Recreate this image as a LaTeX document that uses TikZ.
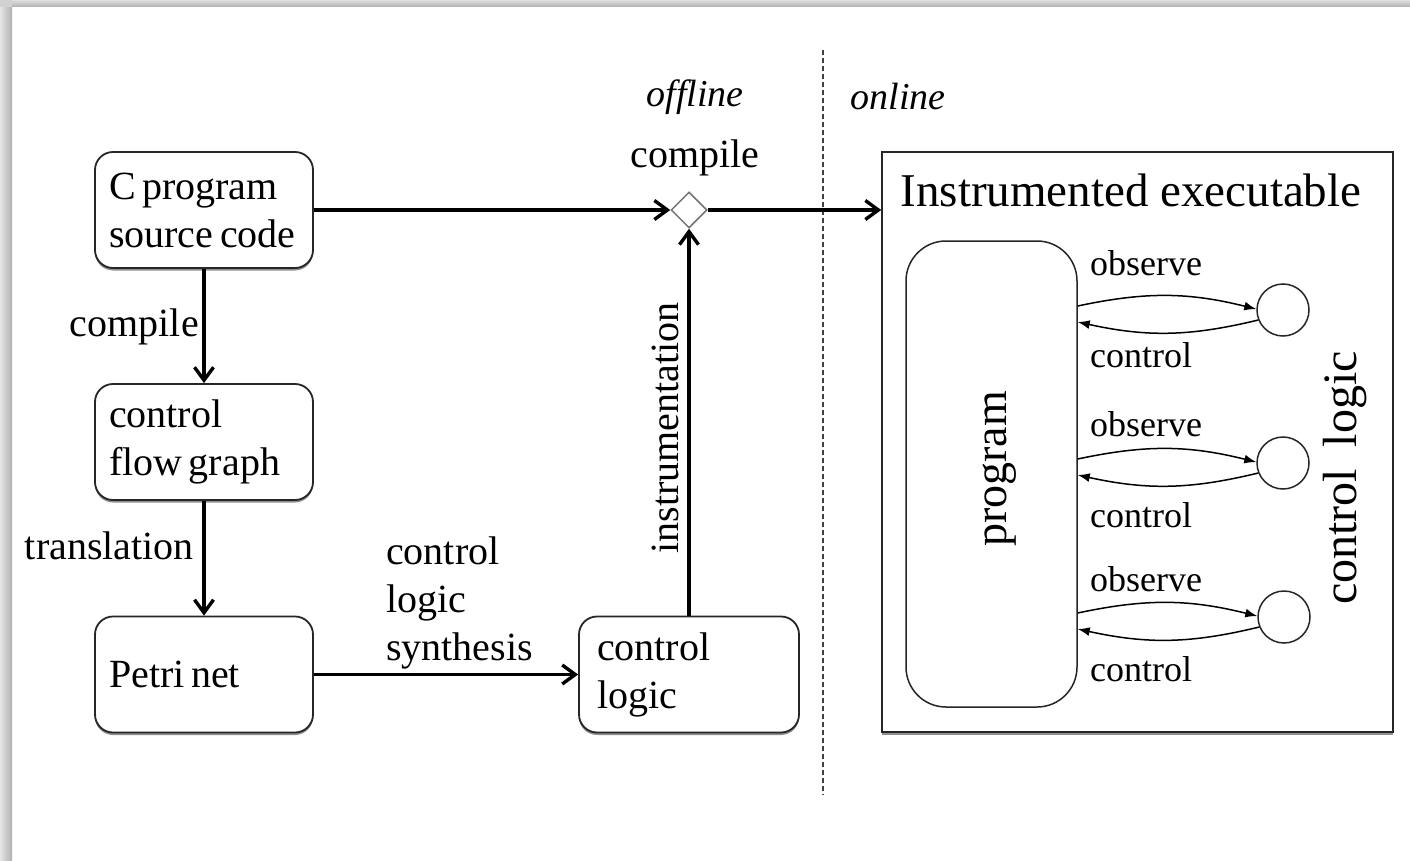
\documentclass[tikz,border=0pt]{standalone}
\usepackage{fontspec}
\setmainfont{Liberation Serif}
\usetikzlibrary{arrows.meta,shapes.geometric,shadows,calc}

\begin{document}
\begin{tikzpicture}[x=1pt,y=-1pt,
  softshadow/.style={drop shadow={shadow xshift=0pt,shadow yshift=-2.5pt,fill=black!55,opacity=0.8}},
  stage/.style={draw=black!85,line width=1.8pt,rounded corners=18pt,fill=white,softshadow,
    minimum height=116pt,align=left,font=\fontsize{40}{48}\selectfont},
  wide/.style={minimum width=218pt,text width=190pt,inner xsep=14pt},
  flow/.style={line width=3.4pt,-{Straight Barb[length=13pt,width=19pt]}},
  sig/.style={line width=1.5pt,-{Latex[length=12pt,width=9pt]}},
  lbl/.style={inner sep=0pt,font=\fontsize{40}{48}\selectfont},
  small/.style={inner sep=0pt,font=\fontsize{36}{42}\selectfont,anchor=base west},
  place/.style={circle,draw=black!85,line width=1.5pt,minimum size=52pt,inner sep=0pt}]

% page with a soft shadow along the top and left edges
\useasboundingbox (0,0) rectangle (1410,861);
\fill[white] (0,0) rectangle (1410,861);
\shade[top color=gray!25,bottom color=gray!62] (0,0) rectangle (1410,7);
\shade[left color=gray!20,right color=gray!62] (0,7) rectangle (12,861);
\fill[gray!35] (0,0) rectangle (12,7);

% offline / online split
\draw[black!75,line width=1.2pt,dash pattern=on 5pt off 3pt] (823,50) -- (823,795);
\node[lbl,font=\fontsize{38}{44}\selectfont\itshape] (off) at (695,97) {offline};
\node[lbl,font=\fontsize{38}{44}\selectfont\itshape] (on) at (898,97) {online};

% offline tool chain
\node[stage,wide] (src) at (204,210) {C\,program\\source\,code};
\node[stage,wide] (cfg) at (204,442) {control\\flow\,graph};
\node[stage,wide] (pn) at (204,674.5) {Petri\,net};
\node[stage,minimum width=220pt,text width=184pt,inner xsep=18pt] (cl) at (689,674.5) {control\\logic};
\node[diamond,draw=black!55,line width=1.5pt,minimum width=36pt,minimum height=36pt,inner sep=0pt,fill=white] (cc) at (689,210) {};

\draw[flow] (src.south) -- (cfg.north);
\draw[flow] (cfg.south) -- (pn.north);
\draw[flow] (pn.east) -- (cl.west);
\draw[flow] (cl.north) -- (cc.south);
\draw[flow] (src.east) -- (cc.west);

\node[lbl,anchor=east] (l1) at (199,327) {compile};
\node[lbl,anchor=east] (l2) at (194,546) {translation};
\node[lbl,anchor=west,align=left] (l3) at (386,603) {control\\logic\\synthesis};
\node[lbl,rotate=90] (l4) at (665,428) {instrumentation};
\node[lbl] (l5) at (695,158) {compile};

% instrumented executable
\node[draw=black!85,line width=1.6pt,fill=white,softshadow,minimum width=511pt,minimum height=580pt,inner sep=0pt] (ie) at (1137.5,442) {};
\node[lbl,font=\fontsize{47}{54}\selectfont] (iet) at (1131,190) {Instrumented executable};
\draw[flow] (cc.east) -- (cc.east -| ie.west);

\node[draw=black!85,line width=1.5pt,rounded corners=40pt,minimum width=171pt,minimum height=466pt,inner sep=0pt] (prog) at (991.5,474) {};
\node[lbl,rotate=90,font=\fontsize{46}{52}\selectfont] (progt) at (1000,469) {program};
\node[lbl,rotate=90,font=\fontsize{48}{54}\selectfont] (clt) at (1345,478) {control\hspace{0.45em}logic};

\node[place] (c1) at (1283,310) {};
\node[place] (c2) at (1283,463) {};
\node[place] (c3) at (1284,617) {};

\foreach \c in {c1,c2,c3}{
  \draw[sig] ([yshift=4pt]\c.center -| prog.east) to[bend left=13] (\c.178);
  \draw[sig] (\c.202) to[bend left=13] ([yshift=-12pt]\c.center -| prog.east);
}

\node[small] (o1) at (1090,275) {observe};
\node[small] (k1) at (1090,367) {control};
\node[small] (o2) at (1090,436) {observe};
\node[small] (k2) at (1090,527) {control};
\node[small] (o3) at (1090,591) {observe};
\node[small] (k3) at (1090,681) {control};
\end{tikzpicture}
\end{document}
